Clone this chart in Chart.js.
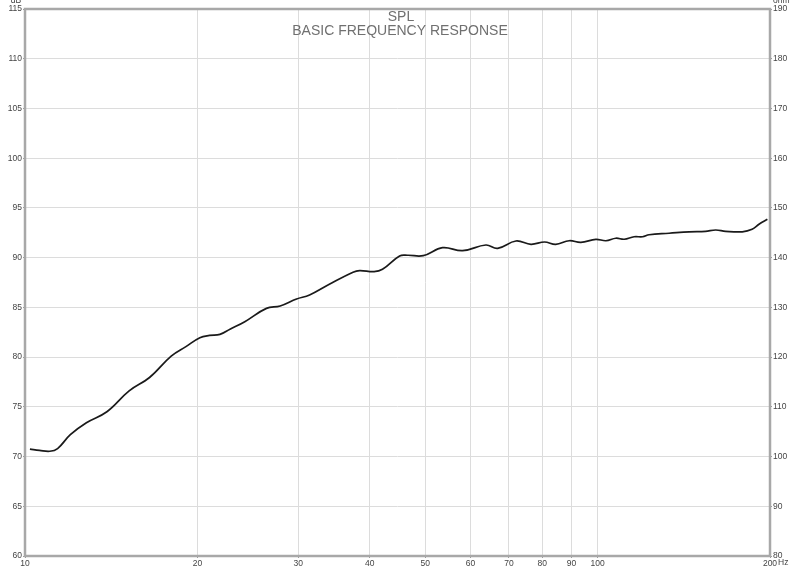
<!DOCTYPE html>
<html>
<head>
<meta charset="utf-8">
<script src="https://cdn.jsdelivr.net/npm/chart.js@4.4.1/dist/chart.umd.min.js"></script>
<style>
  html, body { margin: 0; padding: 0; background: #fff; }
  #wrap { width: 800px; height: 570px; position: relative; }
</style>
</head>
<body>
<div id="wrap"><canvas id="myChart"></canvas></div>
<script>
// frequency (Hz) and SPL (dB)
const freq = [10.2, 10.6, 11.05, 11.4, 12.0, 12.8, 13.9, 15.2, 16.5, 18.0, 19.1, 20.2, 21.0, 21.9,
    22.8, 24.2, 26.4, 27.9, 29.8, 31.4, 34.0, 37.4, 38.4, 40.7, 42.1, 45.1, 46.6, 49.6, 53.6,
    58.1, 63.8, 66.9, 72.0, 76.5, 80.8, 84.5, 89.2, 93.5, 99.3, 103.4, 107.6, 111.3, 115.8,
    119.8, 123.0, 133.3, 144.5, 154.3, 160.8, 167.3, 178.9, 186.1, 191.6, 197.9];
const spl = [70.75, 70.62, 70.53, 70.8, 72.2, 73.4, 74.5, 76.6, 77.95, 80.1, 81.05, 81.95, 82.18, 82.29,
    82.8, 83.56, 84.9, 85.14, 85.84, 86.24, 87.32, 88.53, 88.69, 88.59, 88.83, 90.17, 90.24, 90.2, 91.0,
    90.7, 91.27, 90.94, 91.67, 91.34, 91.57, 91.34, 91.7, 91.54, 91.84, 91.7, 91.95, 91.85, 92.1,
    92.1, 92.3, 92.45, 92.6, 92.65, 92.78, 92.65, 92.6, 92.85, 93.38, 93.85];

const xTicks = [10, 20, 30, 40, 50, 60, 70, 80, 90, 100, 200];
const titleLines = ['SPL', 'BASIC FREQUENCY RESPONSE'];

const font = "'Liberation Sans', Arial, sans-serif";
const gridColor = '#dcdcdc';
const frameColor = '#a8a8a8';
const tickText = '#444';
const tickSize = 8.5;

// frame, title and unit labels
const decor = {
    id: 'decor',
    beforeDatasetsDraw(chart) {
        const { ctx, chartArea: a } = chart;
        ctx.save();
        ctx.strokeStyle = frameColor;
        ctx.lineWidth = 2.5;
        ctx.strokeRect(a.left, a.top, a.right - a.left, a.bottom - a.top);
        ctx.restore();
    },
    afterDraw(chart) {
        const { ctx, chartArea: a } = chart;
        ctx.save();
        ctx.fillStyle = '#707070';
        ctx.font = '14px ' + font;
        ctx.textAlign = 'center';
        ctx.textBaseline = 'middle';
        ctx.fillText(titleLines[0], 401, 17);
        ctx.fillText(titleLines[1], 400, 31);

        ctx.fillStyle = tickText;
        ctx.font = tickSize + 'px ' + font;
        ctx.textAlign = 'center';
        ctx.fillText('dB', 16, 1);
        ctx.textAlign = 'left';
        ctx.fillText('ohm', a.right + 3, 1);
        ctx.fillText('Hz', a.right + 8, 563);
        ctx.restore();
    }
};

const config = {
    type: 'line',
    data: {
        datasets: [{
            label: 'SPL',
            data: freq.map((f, i) => ({ x: f, y: spl[i] })),
            borderColor: '#1a1a1a',
            borderWidth: 1.7,
            pointRadius: 0,
            fill: false,
            tension: 0.4,
            yAxisID: 'y'
        }]
    },
    options: {
        responsive: true,
        maintainAspectRatio: false,
        animation: false,
        layout: { padding: { top: 9, left: 0, right: 0, bottom: 0 } },
        plugins: {
            legend: { display: false },
            title: { display: false },
            tooltip: { enabled: false }
        },
        scales: {
            x: {
                type: 'logarithmic',
                min: 10,
                max: 200,
                afterBuildTicks: s => { s.ticks = xTicks.map(v => ({ value: v })); },
                afterFit: s => { s.height = 14; },
                border: { display: false },
                grid: { color: gridColor, tickLength: 2, tickColor: '#999' },
                ticks: {
                    autoSkip: false,
                    maxRotation: 0,
                    padding: 1,
                    color: tickText,
                    font: { family: font, size: tickSize },
                    callback: v => String(v)
                }
            },
            y: {
                position: 'left',
                min: 60,
                max: 115,
                afterFit: s => { s.width = 25; },
                border: { display: false },
                grid: { color: gridColor, tickLength: 2, tickColor: '#999' },
                ticks: {
                    stepSize: 5,
                    padding: 1,
                    color: tickText,
                    font: { family: font, size: tickSize }
                }
            },
            ohm: {
                position: 'right',
                min: 80,
                max: 190,
                afterFit: s => { s.width = 30; },
                border: { display: false },
                grid: { drawOnChartArea: false, tickLength: 2, tickColor: '#999' },
                ticks: {
                    stepSize: 10,
                    padding: 1,
                    color: tickText,
                    font: { family: font, size: tickSize }
                }
            }
        }
    },
    plugins: [decor]
};

const ctx = document.getElementById('myChart').getContext('2d');
new Chart(ctx, config);
</script>
</body>
</html>
